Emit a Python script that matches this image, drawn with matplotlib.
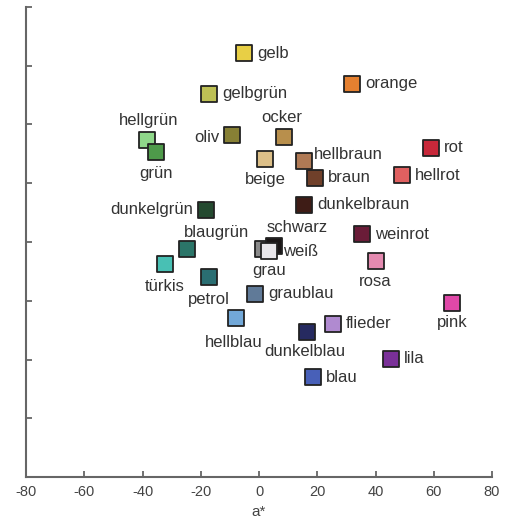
import matplotlib
matplotlib.use('Agg')
import matplotlib.pyplot as plt

plt.rcParams['font.family'] = ['Liberation Sans', 'DejaVu Sans']
plt.rcParams['axes.unicode_minus'] = False

# Farbnamen mit ihren a*/b*-Mittelwerten
names = ['gelb', 'orange', 'gelbgrün', 'hellgrün', 'grün', 'oliv', 'ocker', 'beige',
         'hellbraun', 'braun', 'rot', 'hellrot', 'dunkelbraun', 'weinrot', 'dunkelgrün',
         'blaugrün', 'türkis', 'petrol', 'grau', 'schwarz', 'weiß', 'rosa', 'graublau',
         'pink', 'hellblau', 'flieder', 'dunkelblau', 'lila', 'blau']
a_star = [-5.0, 32.1, -17.2, -38.5, -35.4, -9.3, 8.6, 2.1,
          15.5, 19.2, 58.9, 49.1, 15.5, 35.4, -18.2,
          -24.7, -32.4, -17.3, 1.5, 5.3, 3.4, 40.3, -1.4,
          66.4, -7.9, 25.4, 16.5, 45.2, 18.4]
b_star = [64.2, 53.8, 50.4, 34.7, 30.6, 36.4, 35.7, 28.3,
          27.6, 21.8, 32.0, 22.8, 12.6, 2.7, 10.9,
          -2.4, -7.5, -11.9, -2.4, -1.4, -3.1, -6.5, -17.7,
          -20.9, -25.9, -27.9, -30.6, -39.8, -46.0]
colors = ['#e8cf45', '#e58030', '#bdc055', '#8fd88a', '#4e9a4a', '#878035', '#b88f4c', '#dcbf88',
          '#b07a55', '#70402a', '#c8283a', '#e06060', '#3e1c16', '#6a1c38', '#244a30',
          '#2b7568', '#48c0b4', '#2a6e72', '#8a8a8a', '#1a1616', '#e8e6ea', '#e48ab0', '#607a98',
          '#e048a8', '#72a8d8', '#b08ad0', '#262a60', '#7a3098', '#4860b8']

# Beschriftung: Versatz in Pixeln und Ausrichtung
right = ((13, 0), 'left')
label_pos = {
    'hellgrün': ((2, 20), 'center'), 'grün': ((0, -21), 'center'),
    'oliv': ((-12, -2), 'right'), 'ocker': ((-2, 20), 'center'),
    'beige': ((0, -21), 'center'), 'hellbraun': ((10, 6), 'left'),
    'dunkelgrün': ((-13, 0), 'right'), 'blaugrün': ((29, 17), 'center'),
    'schwarz': ((23, 19), 'center'), 'weiß': ((14, 0), 'left'),
    'grau': ((6, -21), 'center'), 'türkis': ((0, -22), 'center'),
    'petrol': ((0, -23), 'center'), 'hellblau': ((-2, -24), 'center'),
    'dunkelblau': ((-2, -20), 'center'), 'rosa': ((-1, -20), 'center'),
    'pink': ((0, -19), 'center'),
}

fig = plt.figure(figsize=(5.16, 5.22), dpi=100)
ax = fig.add_axes([0.0504, 0.0862, 0.9031, 0.9004])

for name, x, y, c in zip(names, a_star, b_star, colors):
    ax.scatter(x, y, s=125, marker='s', color=c, edgecolors='#222222',
               linewidths=1.3, zorder=3)
    off, ha = label_pos.get(name, right)
    ax.annotate(name, (x, y), xytext=off, textcoords='offset pixels',
                ha=ha, va='center', fontsize=12, color='#333333', zorder=4)

ax.set_xlim(-80, 80)
ax.set_ylim(-80, 80)
ax.set_xticks(range(-80, 81, 20))
ax.set_yticks(range(-80, 81, 20))
ax.set_yticklabels([])
ax.set_xlabel('a*', fontsize=11, color='#444444', labelpad=4)

for side in ['top', 'right']:
    ax.spines[side].set_visible(False)
for side in ['left', 'bottom']:
    ax.spines[side].set_color('#666666')
    ax.spines[side].set_linewidth(1.5)
ax.tick_params(direction='in', length=4, width=1.3, color='#666666',
               labelcolor='#444444', labelsize=10.5)
ax.tick_params(axis='x', pad=6)

fig.savefig('out.png', dpi=100)
